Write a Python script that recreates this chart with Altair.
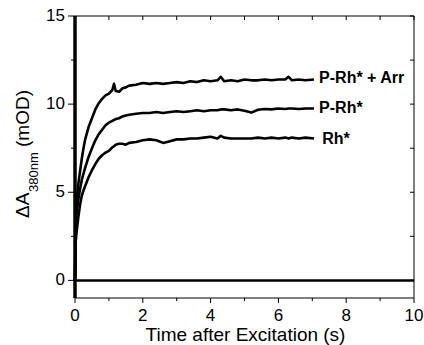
import altair as alt
import pandas as pd

# ---- data ----
time_s = [0, 0.02, 0.05, 0.1, 0.15, 0.2, 0.25, 0.3, 0.4, 0.5, 0.6, 0.7, 0.8, 0.9,
          1.0, 1.1, 1.15, 1.2, 1.3, 1.4, 1.5, 1.6, 1.8, 2.0, 2.2, 2.4, 2.6, 2.8,
          3.0, 3.2, 3.4, 3.6, 3.8, 4.0, 4.2, 4.3, 4.4, 4.6, 4.8, 5.0, 5.2, 5.4,
          5.6, 5.8, 6.0, 6.2, 6.3, 6.4, 6.6, 6.8, 7.05]
prh_arr = [0, 3.0, 4.6, 5.5, 6.2, 6.9, 7.5, 8.0, 8.7, 9.2, 9.7, 10.05, 10.3, 10.5,
           10.6, 10.8, 11.15, 10.75, 10.7, 10.9, 10.95, 11.05, 11.1, 11.2, 11.15, 11.2,
           11.15, 11.2, 11.25, 11.2, 11.3, 11.25, 11.35, 11.3, 11.35, 11.55, 11.3, 11.35,
           11.3, 11.4, 11.35, 11.35, 11.4, 11.35, 11.4, 11.4, 11.55, 11.35, 11.4, 11.35, 11.4]
prh = [0, 2.6, 3.9, 4.6, 5.2, 5.7, 6.05, 6.4, 7.0, 7.5, 7.95, 8.3, 8.55, 8.8,
       8.95, 9.05, 9.1, 9.15, 9.2, 9.3, 9.35, 9.4, 9.45, 9.5, 9.5, 9.55, 9.5, 9.55,
       9.6, 9.55, 9.6, 9.65, 9.6, 9.65, 9.65, 9.7, 9.7, 9.65, 9.7, 9.62, 9.52, 9.68,
       9.72, 9.7, 9.75, 9.72, 9.75, 9.75, 9.72, 9.75, 9.75]
rh = [0, 2.2, 2.8, 3.6, 4.3, 4.8, 5.1, 5.35, 5.85, 6.25, 6.6, 6.9, 7.1, 7.25,
      7.35, 7.55, 7.6, 7.7, 7.75, 7.75, 7.7, 7.8, 7.85, 7.95, 8.0, 7.95, 7.8, 7.9,
      8.0, 8.0, 8.05, 8.05, 8.1, 8.15, 8.05, 8.2, 8.1, 8.05, 8.05, 8.05, 8.05, 8.1,
      8.05, 8.1, 8.05, 8.1, 8.05, 8.1, 8.05, 8.1, 8.05]
series_names = ["P-Rh* + Arr", "P-Rh*", "Rh*"]
baseline_t = [0, 10]
baseline_v = [0, 0]
label_t = [7.2, 7.2, 7.29]
label_v = [11.19, 9.51, 7.75]
x_major = [0, 2, 4, 6, 8, 10]
x_major_labels = ["0", "2", "4", "6", "8", "10"]
x_minor = [1, 3, 5, 7, 9]
x_all = [0, 1, 2, 3, 4, 5, 6, 7, 8, 9, 10]
y_major = [0, 5, 10, 15]
y_major_labels = ["0", "5", "10", "15"]
y_minor = [2.5, 7.5, 12.5]
y_all = [0, 2.5, 5, 7.5, 10, 12.5, 15]
x_title = "Time after Excitation (s)"

curves = pd.concat([
    pd.DataFrame({"t": time_s, "v": vals, "series": name})
    for name, vals in zip(series_names, [prh_arr, prh, rh])
])
baseline = pd.DataFrame({"t": baseline_t, "v": baseline_v})
labels = pd.DataFrame({"t": label_t, "v": label_v, "label": series_names})
dummy = pd.DataFrame({"_": [0]})

FONT = "Liberation Sans"
W, H = 339, 282
xscale = alt.Scale(domain=[0, 10], nice=False, zero=False)
yscale = alt.Scale(domain=[-1, 15], nice=False, zero=False)
X = lambda f="t": alt.X(f + ":Q", scale=xscale, axis=None)
Y = lambda f="v": alt.Y(f + ":Q", scale=yscale, axis=None)

lines = alt.Chart(curves).mark_line(color="black", strokeWidth=2.6, strokeJoin="round").encode(
    x=X(), y=Y(), detail="series:N",
)

zero_line = alt.Chart(baseline).mark_line(color="black", strokeWidth=2.5).encode(x=X(), y=Y())

# frame + thick left axis line
frame = [
    alt.Chart(dummy).mark_rule(color="black", strokeWidth=1).encode(
        x=alt.value(0), x2=alt.value(W), y=alt.value(0)),
    alt.Chart(dummy).mark_rule(color="black", strokeWidth=1).encode(
        x=alt.value(0), x2=alt.value(W), y=alt.value(H)),
    alt.Chart(dummy).mark_rule(color="black", strokeWidth=1).encode(
        x=alt.value(W), y=alt.value(0), y2=alt.value(H)),
    alt.Chart(dummy).mark_rule(color="black", strokeWidth=3.5).encode(
        x=alt.value(0), y=alt.value(0), y2=alt.value(H)),
]

# tick marks placed through the shared scales
def xticks(vals, y0, y1):
    return alt.Chart(pd.DataFrame({"t": vals})).mark_rule(color="black", strokeWidth=1).encode(
        x=X(), y=alt.value(y0), y2=alt.value(y1))

def yticks(vals, x0, x1):
    return alt.Chart(pd.DataFrame({"v": vals})).mark_rule(color="black", strokeWidth=1).encode(
        y=Y(), x=alt.value(x0), x2=alt.value(x1))

tick_layers = [
    xticks(x_major, H, H + 5),
    xticks(x_minor, H, H + 3),
    xticks(x_all, 0, 4),
    yticks(y_major, -7, 0),
    yticks(y_minor, -4, 0),
    yticks(y_all, W - 4, W),
]

x_tick_labels = alt.Chart(pd.DataFrame({"t": x_major, "s": x_major_labels})).mark_text(
    align="center", baseline="alphabetic", font=FONT, fontSize=17, color="black",
).encode(x=X(), y=alt.value(H + 23), text="s:N")

y_tick_labels = alt.Chart(pd.DataFrame({"v": y_major, "s": y_major_labels})).mark_text(
    align="right", baseline="middle", font=FONT, fontSize=17, color="black",
).encode(y=Y(), x=alt.value(-10), text="s:N")

x_title_mark = alt.Chart(dummy).mark_text(
    text=x_title, align="center", baseline="alphabetic", font=FONT, fontSize=19, color="black",
).encode(x=alt.value(W / 2 + 1), y=alt.value(H + 43))

label_marks = alt.Chart(labels).mark_text(
    align="left", baseline="alphabetic", font=FONT, fontSize=16,
    fontWeight="bold", color="black",
).encode(x=X(), y=Y(), text="label:N")

def ytitle(txt, x, y, size):
    return alt.Chart(dummy).mark_text(
        text=txt, angle=270, align="left", baseline="alphabetic",
        font=FONT, fontSize=size, color="black",
    ).encode(x=alt.value(x), y=alt.value(y))

title_parts = [
    ytitle("\u0394A", -46, 202, 19),
    ytitle("380nm", -37, 176, 13),
    ytitle("(mOD)", -46, 131, 19),
]

chart = alt.layer(
    lines, zero_line, *frame, *tick_layers,
    x_tick_labels, y_tick_labels, x_title_mark, label_marks, *title_parts,
).properties(
    width=W, height=H,
    autosize=alt.AutoSizeParams(type="none"),
    padding={"left": 75, "top": 16, "right": 10, "bottom": 47},
).configure_view(stroke=None)

chart.save("out.html", embed_options={"renderer": "svg", "actions": False})
